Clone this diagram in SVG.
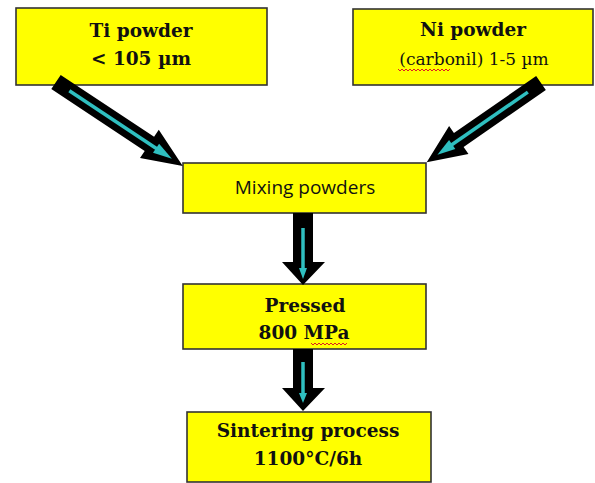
<svg xmlns="http://www.w3.org/2000/svg" width="595" height="483" viewBox="0 0 595 483">
<style>
.box{fill:#ffff00;stroke:#333;stroke-width:1.6}
.t{font-family:"DejaVu Serif","Liberation Serif",serif;font-weight:bold;font-size:18.5px;fill:#111;text-anchor:middle}
.tn{font-family:"DejaVu Serif","Liberation Serif",serif;font-size:17px;fill:#111;text-anchor:middle}
.s{font-family:"Open Sans","Noto Sans",sans-serif;font-size:19px;fill:#111;text-anchor:middle}
.arr{fill:#000}
.teal{fill:#2fbfc0}
.tl{stroke:#2fbfc0;stroke-width:3.5;fill:none}
.sq{stroke:#e02020;stroke-width:1;fill:none}
</style>
<rect width="595" height="483" fill="#fff"/>
<g id="ti">
<rect class="box" x="16" y="8" width="251" height="77"/>
<text class="t" x="141" y="37">Ti powder</text>
<text class="t" x="141" y="65">&lt; 105 µm</text>
</g>
<g id="ni">
<rect class="box" x="353" y="9" width="240" height="76"/>
<text class="t" x="473" y="36">Ni powder</text>
<text class="tn" x="474" y="65">(carbonil) 1-5 µm</text>
<polyline class="sq" points="398,69 400,71 402,69 404,71 406,69 408,71 410,69 412,71 414,69 416,71 418,69 420,71 422,69 424,71 426,69 428,71 430,69 432,71 434,69 436,71 438,69 440,71 442,69 444,71 446,69 448,71 450,69"/>
</g>
<g id="mix">
<rect class="box" x="183" y="163" width="243" height="50"/>
<text class="s" x="305" y="194">Mixing powders</text>
</g>
<g id="pressed">
<rect class="box" x="183" y="284" width="243" height="65"/>
<text class="t" x="305" y="312">Pressed</text>
<text class="t" x="304" y="339">800 MPa</text>
<polyline class="sq" points="311,343 313,345 315,343 317,345 319,343 321,345 323,343 325,345 327,343 329,345 331,343 333,345 335,343 337,345 339,343 341,345 343,343 345,345 347,343"/>
</g>
<g id="sinter">
<rect class="box" x="187" y="412" width="244" height="70"/>
<text class="t" x="308" y="437">Sintering process</text>
<text class="t" x="308" y="465">1100°C/6h</text>
</g>
<g id="connectors">
<g transform="translate(56,82) rotate(33.5)">
<polygon class="arr" points="0,-8.5 112,-8.5 112,-17 152,0 112,17 112,8.5 0,8.5"/>
<line class="tl" x1="16" y1="0" x2="124" y2="0"/>
<polygon class="teal" points="120,-5.5 139,0 120,5.5"/>
</g>
<g transform="translate(541,83) rotate(145.3)">
<polygon class="arr" points="0,-8.5 100,-8.5 100,-17 139,0 100,17 100,8.5 0,8.5"/>
<line class="tl" x1="16" y1="0" x2="112" y2="0"/>
<polygon class="teal" points="108,-5.5 126,0 108,5.5"/>
</g>
<polygon class="arr" points="293,213 313,213 313,262 325,262 303,285 282,262 293,262"/>
<line class="tl" x1="303" y1="228" x2="303" y2="270"/>
<polygon class="teal" points="299,268 307,268 303,279"/>
<polygon class="arr" points="293,349 313,349 313,388 325,388 303,411 282,388 293,388"/>
<line class="tl" x1="303" y1="362" x2="303" y2="395"/>
<polygon class="teal" points="299,393 307,393 303,403"/>
</g>
</svg>
